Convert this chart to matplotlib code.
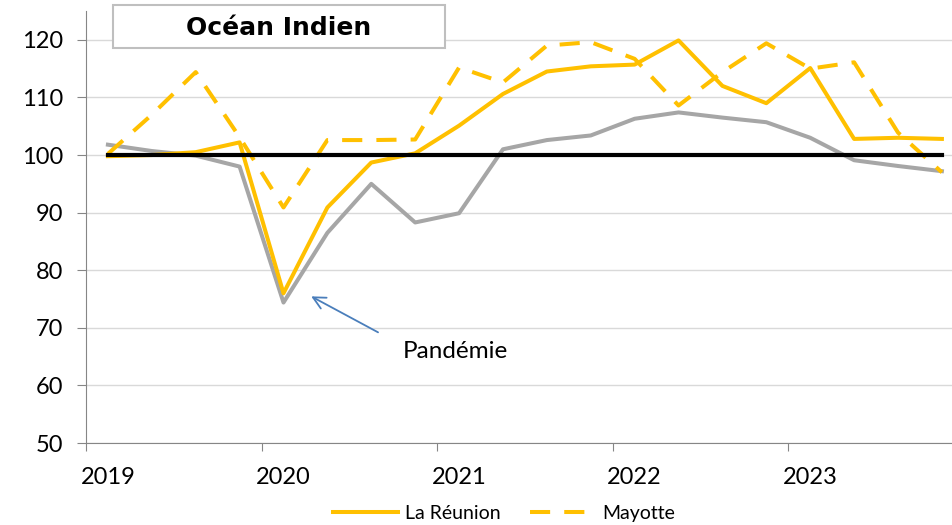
import matplotlib.pyplot as plt
from matplotlib.patches import Rectangle

# Quarterly index, 2019T1 -> 2023T4
quarters = list(range(20))
reunion = [99.8, 100.0, 100.5, 102.2, 76.0, 90.9, 98.7, 100.3, 105.1, 110.6,
           114.5, 115.4, 115.7, 119.9, 112.0, 109.0, 115.1, 102.8, 103.0, 102.8]
mayotte = [100.2, 107.0, 114.4, 103.1, 90.9, 102.6, 102.6, 102.7, 115.2, 112.6,
           119.0, 119.6, 116.7, 108.6, 114.4, 119.4, 115.0, 116.1, 103.9, 97.0]
autre = [101.8, 100.7, 99.9, 98.0, 74.4, 86.5, 95.0, 88.3, 89.9, 101.0,
         102.6, 103.4, 106.3, 107.4, 106.5, 105.7, 103.0, 99.1, 98.1, 97.2]
reference = [100] * 20
year_labels = ['2019', '2020', '2021', '2022', '2023']
year_ticks = [-0.5, 3.5, 7.5, 11.5, 15.5]
label_pos = [0, 4, 8, 12, 16]

gold = '#FFC000'
grey = '#A6A6A6'
axis_grey = '#868686'
text_font = ['Lato', 'DejaVu Sans']

fig = plt.figure(figsize=(9.52, 5.25), dpi=100)
ax = fig.add_axes([0.0903, 0.156, 0.9097, 0.823])

ax.plot(quarters, autre, color=grey, lw=2.9, zorder=3)
ax.plot(quarters, reunion, color=gold, lw=2.9, zorder=4, label='La Réunion')
ax.plot(quarters, mayotte, color=gold, lw=2.9, zorder=4, dashes=(5, 3.5),
        label='Mayotte')
ax.plot(quarters, reference, color='black', lw=3, zorder=5)

ax.set_ylim(50, 125)
ax.set_xlim(-0.5, 19.23)
ax.set_yticks(range(50, 121, 10))
ax.grid(axis='y', color='#D9D9D9', lw=1)
ax.set_axisbelow(True)

# ticks on year boundaries, labels under first quarter
ax.set_xticks(year_ticks)
ax.set_xticklabels([])
ax.set_xticks(label_pos, minor=True)
ax.set_xticklabels(year_labels, minor=True)
ax.tick_params(axis='x', which='minor', length=0, pad=17)
ax.tick_params(axis='x', which='major', length=6, color=axis_grey)

for lab in ax.get_xticklabels(minor=True) + ax.get_yticklabels():
    lab.set_family(text_font)
    lab.set_fontsize(17)

for s in ['top', 'right']:
    ax.spines[s].set_visible(False)
for s in ['left', 'bottom']:
    ax.spines[s].set_color(axis_grey)
ax.tick_params(axis='y', length=6.5, color=axis_grey, pad=10)

# title box
box = Rectangle((113 / 952, 1 - 48 / 525), 332 / 952, 43 / 525,
                transform=fig.transFigure, fc='white', ec='#BFBFBF', lw=1.5,
                zorder=10)
fig.patches.append(box)
fig.text(279 / 952, 1 - 28 / 525, 'Océan Indien', ha='center', va='center',
         fontsize=18, fontweight='bold', family='DejaVu Sans', zorder=11)

ax.annotate('', xy=(4.575, 75.7), xytext=(6.21, 69.0),
            arrowprops=dict(arrowstyle='->', color='#4A7EBB', lw=1.3,
                            mutation_scale=22))
ax.text(6.72, 64.8, 'Pandémie', fontsize=17.5, family=text_font,
        ha='left', va='baseline')

ax.legend(loc='center', bbox_to_anchor=(0.483, -0.162), ncol=2,
          frameon=False, prop={'family': text_font, 'size': 14},
          handlelength=3.3, handletextpad=0.4, columnspacing=1.5)

fig.savefig('out.png', dpi=100)
